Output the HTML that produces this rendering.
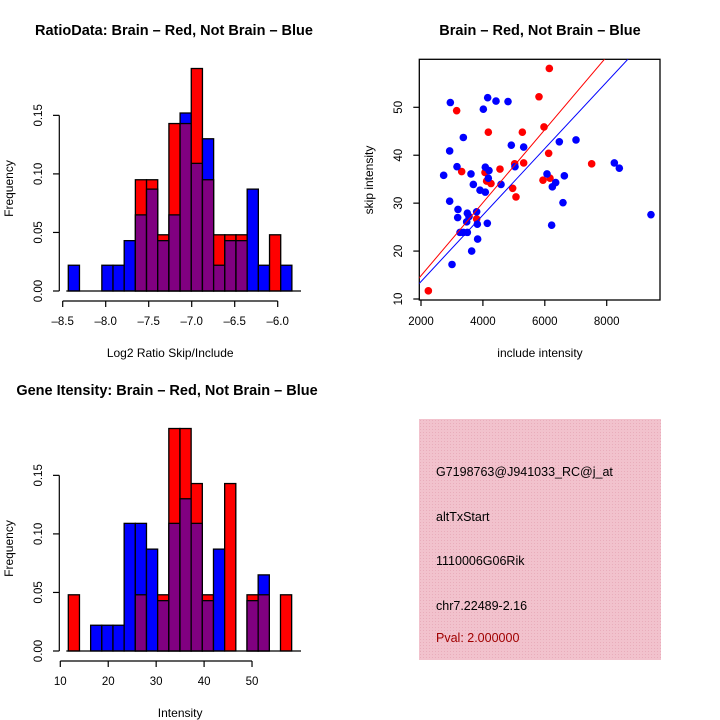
<!DOCTYPE html>
<html><head><meta charset="utf-8"><style>
html,body{margin:0;padding:0;background:#fff;}
svg{display:block;font-family:"Liberation Sans",sans-serif;}
</style></head><body>
<svg id="chart" width="720" height="720" viewBox="0 0 720 720" xmlns="http://www.w3.org/2000/svg">
<defs>
<pattern id="hatch" width="3" height="3" patternUnits="userSpaceOnUse">
<rect width="3" height="3" fill="#f2c2cd"/>
<rect width="1" height="1" fill="#e9adbb"/>
</pattern>
</defs>
<rect width="720" height="720" fill="#fff"/>
<g id="p1"></g>
<g id="p2"></g>
<g id="p3"></g>
<g font-size="12.5">
<rect x="419" y="419" width="242" height="241" fill="url(#hatch)"/>
<text x="436" y="476" fill="#000">G7198763@J941033_RC@j_at</text>
<text x="436" y="521" fill="#000">altTxStart</text>
<text x="436" y="565" fill="#000">1110006G06Rik</text>
<text x="436" y="610" fill="#000">chr7.22489-2.16</text>
<text x="436" y="642" fill="#a00000">Pval: 2.000000</text>
</g>
</svg>
<script>
// Ratio histogram data
const ratioBinStart = -8.435;
const ratioBinWidth = 0.13;
const ratioRed  = [0,0,0,0,0,0,0.095,0.095,0.048,0.143,0.143,0.19,0.095,0.048,0.048,0.048,0,0,0.048,0];
const ratioBlue = [0.022,0,0,0.022,0.022,0.043,0.065,0.087,0.043,0.065,0.152,0.109,0.13,0.022,0.043,0.043,0.087,0.022,0,0.022];
const ratioXTicks = [-8.5,-8.0,-7.5,-7.0,-6.5,-6.0];
const freqTicks = [0,0.05,0.10,0.15];
const freqTickLabels = ["0.00","0.05","0.10","0.15"];
// Intensity histogram data
const intBinStart = 11.67;
const intBinWidth = 2.33;
const intRed  = [0.048,0,0,0,0,0,0.048,0,0.048,0.19,0.19,0.143,0.048,0,0.143,0,0.048,0.048,0,0.048];
const intBlue = [0,0,0.022,0.022,0.022,0.109,0.109,0.087,0.043,0.109,0.13,0.109,0.043,0.087,0,0,0.043,0.065,0,0];
const intXTicks = [10,20,30,40,50];
// Scatter data
const redX = [2237,3152,3314,4175,4068,4121,4261,3798,4552,5026,4961,5069,5274,5317,5812,5974,6146,6124,5941,6168,7514];
const redY = [11.7,49.3,36.6,44.8,36.4,34.6,34.1,26.7,37.1,38.2,33.1,31.3,44.8,38.4,52.2,45.9,58.1,40.4,34.8,35.2,38.2];
const blueX = [2948,2926,2732,2926,3163,3368,3195,3185,3260,3368,3497,3002,3497,3476,3551,3615,3691,3637,3798,3820,3830,3906,4014,4078,4078,4154,4175,4197,4143,4423,4585,4811,4918,5037,5317,6071,6221,6243,6351,6469,6587,6631,7008,8246,8407,9430];
const blueY = [51.0,40.9,35.8,30.4,37.6,43.7,28.7,27.0,23.9,23.9,23.9,17.2,27.9,26.1,27.2,36.1,33.9,20.0,28.2,25.6,22.5,32.7,49.6,32.3,37.5,52.0,35.2,36.8,25.8,51.3,33.9,51.2,42.1,37.6,41.7,36.1,25.4,33.4,34.3,42.8,30.1,35.7,43.2,38.4,37.3,27.6];
const redFit = [-0.38, 0.00762];
const blueFit = [-0.24, 0.00694];
const scatXTicks = [2000,4000,6000,8000];
const scatYTicks = [10,20,30,40,50];

const NS="http://www.w3.org/2000/svg";
function mk(parent,tag,attrs,text){const e=document.createElementNS(NS,tag);for(const k in attrs)e.setAttribute(k,attrs[k]);if(text!==undefined)e.textContent=text;parent.appendChild(e);return e;}

function histogram(g, cfg){
  const sx=v=>cfg.x0px+(v-cfg.x0)*cfg.xs;
  const sy=v=>cfg.base-v*cfg.ys;
  for(let i=0;i<cfg.red.length;i++){
    const l=sx(cfg.start+i*cfg.w), r=sx(cfg.start+(i+1)*cfg.w);
    const rv=cfg.red[i], bv=cfg.blue[i];
    const mx=Math.max(rv,bv), mn=Math.min(rv,bv);
    if(mx>0){
      const b=mk(g,'rect',{x:l,y:sy(mx),width:r-l,height:sy(0)-sy(mx),fill:rv>=bv?'#ff0000':'#0000ff',stroke:'#000','stroke-width':1.3});
      
      
    }
    if(mn>0){
      const p=mk(g,'rect',{x:l,y:sy(mn),width:r-l,height:sy(0)-sy(mn),fill:'#800080',stroke:'#000','stroke-width':1.3});
      
      
    }
  }
  mk(g,'line',{x1:sx(cfg.start)-2,x2:301,y1:cfg.base,y2:cfg.base,stroke:'#000','stroke-width':1.3});
  const xa=mk(g,'g',{});
  
  
  const ticks=cfg.xticks;
  mk(xa,'line',{x1:sx(ticks[0]),x2:sx(ticks[ticks.length-1]),y1:cfg.axY,y2:cfg.axY,stroke:'#000','stroke-width':1.2});
  ticks.forEach(t=>{
    mk(xa,'line',{x1:sx(t),x2:sx(t),y1:cfg.axY,y2:cfg.axY+6,stroke:'#000','stroke-width':1.2});
    const lab=(cfg.dec?t.toFixed(cfg.dec):String(t)).replace('-','\u2013');
    const tx=mk(xa,'text',{x:sx(t),y:cfg.axY+24,'text-anchor':'middle','font-size':11.5},lab);
    
    
  });
  const xt=mk(g,'text',{x:(sx(ticks[0])+sx(ticks[ticks.length-1]))/2+ (cfg.xlabOff||0),y:cfg.axY+56,'text-anchor':'middle','font-size':12},cfg.xlab);
  
  
  const ya=mk(g,'g',{});
  
  
  mk(ya,'line',{x1:59.3,x2:59.3,y1:sy(0),y2:sy(0.15),stroke:'#000','stroke-width':1.2});
  freqTicks.forEach((t,i)=>{
    mk(ya,'line',{x1:53,x2:59.3,y1:sy(t),y2:sy(t),stroke:'#000','stroke-width':1.2});
    const tl=mk(ya,'text',{x:0,y:0,'text-anchor':'middle','font-size':11.5,transform:`translate(42,${sy(t)}) rotate(-90)`},freqTickLabels[i]);
    
    
  });
  const yt=mk(g,'text',{x:0,y:0,'text-anchor':'middle','font-size':12,transform:`translate(13,${sy(0.0875)}) rotate(-90)`},'Frequency');
  
  
  const tt=mk(g,'text',{x:cfg.titleX,y:cfg.titleY,'text-anchor':'middle','font-size':14.5,'font-weight':'bold'},cfg.title);
  
  
}

histogram(document.getElementById('p1'),{red:ratioRed,blue:ratioBlue,start:ratioBinStart,w:ratioBinWidth,
  x0:-8.5,x0px:62.7,xs:86,base:291,ys:1171,axY:301,xticks:ratioXTicks,dec:1,xlab:'Log2 Ratio Skip/Include',
  title:'RatioData: Brain \u2013 Red, Not Brain \u2013 Blue',titleX:174,titleY:35});
histogram(document.getElementById('p3'),{red:intRed,blue:intBlue,start:intBinStart,w:intBinWidth,
  x0:10,x0px:60.3,xs:4.793,base:651,ys:1171,axY:661,xticks:intXTicks,xlab:'Intensity',xlabOff:24,
  title:'Gene Itensity: Brain \u2013 Red, Not Brain \u2013 Blue',titleX:167,titleY:395});

(function(){
  const g=document.getElementById('p2');
  const sx=v=>421+(v-2000)*0.030952;
  const sy=v=>299-(v-10)*4.7925;
  const L=419.3,T=59.3,R=660,B=300;
  const cp=mk(g,'clipPath',{id:'sc'});mk(cp,'rect',{x:L,y:T,width:R-L,height:B-T});
  const fr=mk(g,'rect',{x:L,y:T,width:R-L,height:B-T,fill:'none',stroke:'#000','stroke-width':1.3});
  
  
  const pts=mk(g,'g',{'clip-path':'url(#sc)'});
  for(let i=0;i<redX.length;i++){
    const c=mk(pts,'circle',{cx:sx(redX[i]),cy:sy(redY[i]),r:3.8,fill:'#ff0000'});
    
    
  }
  for(let i=0;i<blueX.length;i++){
    const c=mk(pts,'circle',{cx:sx(blueX[i]),cy:sy(blueY[i]),r:3.8,fill:'#0000ff'});
    
    
  }
  [[redFit,'#ff0000','red-fit-line'],[blueFit,'#0000ff','blue-fit-line']].forEach(([f,col,n])=>{
    const xa=1900,xb=10000;
    const ln=mk(pts,'line',{x1:sx(xa),y1:sy(f[0]+f[1]*xa),x2:sx(xb),y2:sy(f[0]+f[1]*xb),stroke:col,'stroke-width':1});
    
    
  });
  scatXTicks.forEach(t=>{
    mk(g,'line',{x1:sx(t),x2:sx(t),y1:B,y2:B+6,stroke:'#000','stroke-width':1.2});
    const tx=mk(g,'text',{x:sx(t),y:B+25,'text-anchor':'middle','font-size':11.5},String(t));
    
    
  });
  scatYTicks.forEach(t=>{
    mk(g,'line',{x1:L-6,x2:L,y1:sy(t),y2:sy(t),stroke:'#000','stroke-width':1.2});
    const tl=mk(g,'text',{x:0,y:0,'text-anchor':'middle','font-size':11.5,transform:`translate(402,${sy(t)}) rotate(-90)`},String(t));
    
    
  });
  const xt=mk(g,'text',{x:540,y:357,'text-anchor':'middle','font-size':12},'include intensity');
  
  
  const yt=mk(g,'text',{x:0,y:0,'text-anchor':'middle','font-size':12,transform:'translate(373,180) rotate(-90)'},'skip intensity');
  
  
  const tt=mk(g,'text',{x:540,y:35,'text-anchor':'middle','font-size':14.5,'font-weight':'bold'},'Brain \u2013 Red, Not Brain \u2013 Blue');
  
  
})();
</script>
</body></html>
